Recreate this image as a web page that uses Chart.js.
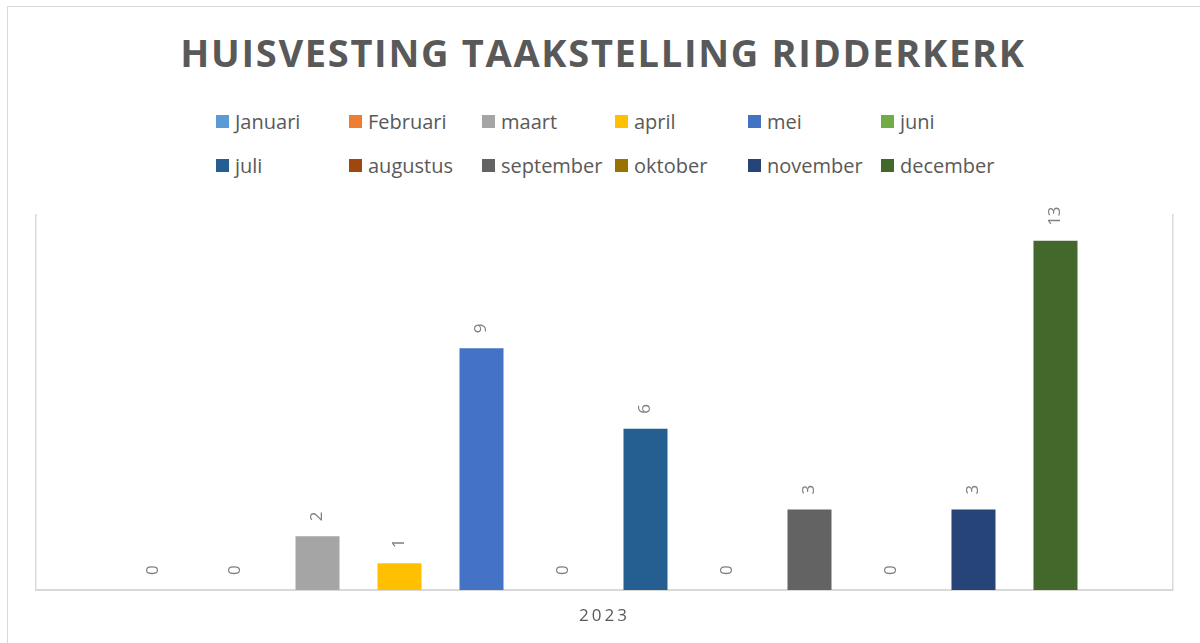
<!DOCTYPE html>
<html lang="nl">
<head>
<meta charset="UTF-8">
<title>Huisvesting taakstelling Ridderkerk</title>
<script src="https://cdn.jsdelivr.net/npm/chart.js"></script>
<style>
    body { margin: 0; background: #fff; font-family: "Open Sans", sans-serif; }
    #wrap { position: relative; width: 1200px; height: 643px; overflow: hidden; }
    #frame { position: absolute; left: 7px; top: 6px; width: 1220px; height: 660px; border: 1px solid #d9d9d9; }
    #title { position: absolute; left: 0; top: 33px; width: 1206px; text-align: center; font-size: 38px; line-height: 1;
             font-weight: 700; letter-spacing: 1.7px; color: #595959; }
    #legend { position: absolute; left: 216px; top: 0; }
    .item { position: absolute; display: flex; align-items: center; white-space: nowrap; font-size: 20px; color: #595959; height: 30px; }
    .item span.box { width: 13px; height: 13px; margin-right: 6px; flex: none; }
    #chartBox { position: absolute; left: 0; top: 0; width: 1200px; height: 643px; }
</style>
</head>
<body>
<div id="wrap">
    <div id="frame"></div>
    <div id="title">HUISVESTING TAAKSTELLING RIDDERKERK</div>
    <div id="legend"></div>
    <div id="chartBox"><canvas id="chart"></canvas></div>
</div>
<script>
    // data
    const categories = ['2023'];
    const months = ['Januari', 'Februari', 'maart', 'april', 'mei', 'juni',
                    'juli', 'augustus', 'september', 'oktober', 'november', 'december'];
    const counts = [0, 0, 2, 1, 9, 0, 6, 0, 3, 0, 3, 13];
    const colors = ['#5B9BD5', '#ED7D31', '#A5A5A5', '#FFC000', '#4472C4', '#70AD47',
                    '#255E91', '#9E480E', '#636363', '#997300', '#264478', '#43682B'];

    // legend: 2 rows of 6 fixed columns
    const legend = document.getElementById('legend');
    months.forEach((m, i) => {
        const el = document.createElement('div');
        el.className = 'item';
        el.style.left = (i % 6) * 133 + 'px';
        el.style.top = (i < 6 ? 106 : 150) + 'px';
        el.innerHTML = '<span class="box" style="background:' + colors[i] + '"></span>' + m;
        legend.appendChild(el);
    });

    // rotated value labels above the bars
    const valueLabels = {
        id: 'valueLabels',
        beforeDraw(chart) { chart.ctx.letterSpacing = '3px'; },
        afterDatasetsDraw(chart) {
            const ctx = chart.ctx;
            ctx.save();
            ctx.letterSpacing = '0px';
            ctx.fillStyle = '#808080';
            ctx.font = '17px "Open Sans"';
            ctx.textAlign = 'left';
            ctx.textBaseline = 'middle';
            chart.data.datasets.forEach((ds, i) => {
                chart.getDatasetMeta(i).data.forEach((bar, j) => {
                    ctx.save();
                    ctx.translate(bar.x, bar.y - 15);
                    ctx.rotate(-Math.PI / 2);
                    ctx.fillText(String(ds.data[j]), 0, 0);
                    ctx.restore();
                });
            });
            ctx.restore();
        },
        afterDraw(chart) { chart.ctx.letterSpacing = '0px'; }
    };

    new Chart(document.getElementById('chart'), {
        type: 'bar',
        data: {
            labels: categories,
            datasets: months.map((m, i) => ({
                label: m,
                data: [counts[i]],
                backgroundColor: colors[i],
                borderWidth: 0
            }))
        },
        options: {
            responsive: true,
            maintainAspectRatio: false,
            animation: false,
            datasets: { bar: { categoryPercentage: 0.8654, barPercentage: 0.5366 } },
            layout: { padding: { left: 36, right: 27, top: 214, bottom: 0 } },
            plugins: { legend: { display: false }, title: { display: false }, tooltip: { enabled: false } },
            scales: {
                x: {
                    grid: { display: true, offset: true, color: '#d9d9d9', lineWidth: 1.5, drawTicks: false },
                    border: { display: true, color: '#d9d9d9', width: 2 },
                    ticks: { color: '#595959', font: { family: 'Open Sans', size: 17 }, padding: 16 },
                    afterFit(scale) { scale.height = 53; }
                },
                y: { display: false, min: 0, max: 14 }
            }
        },
        plugins: [valueLabels]
    });
</script>
</body>
</html>
